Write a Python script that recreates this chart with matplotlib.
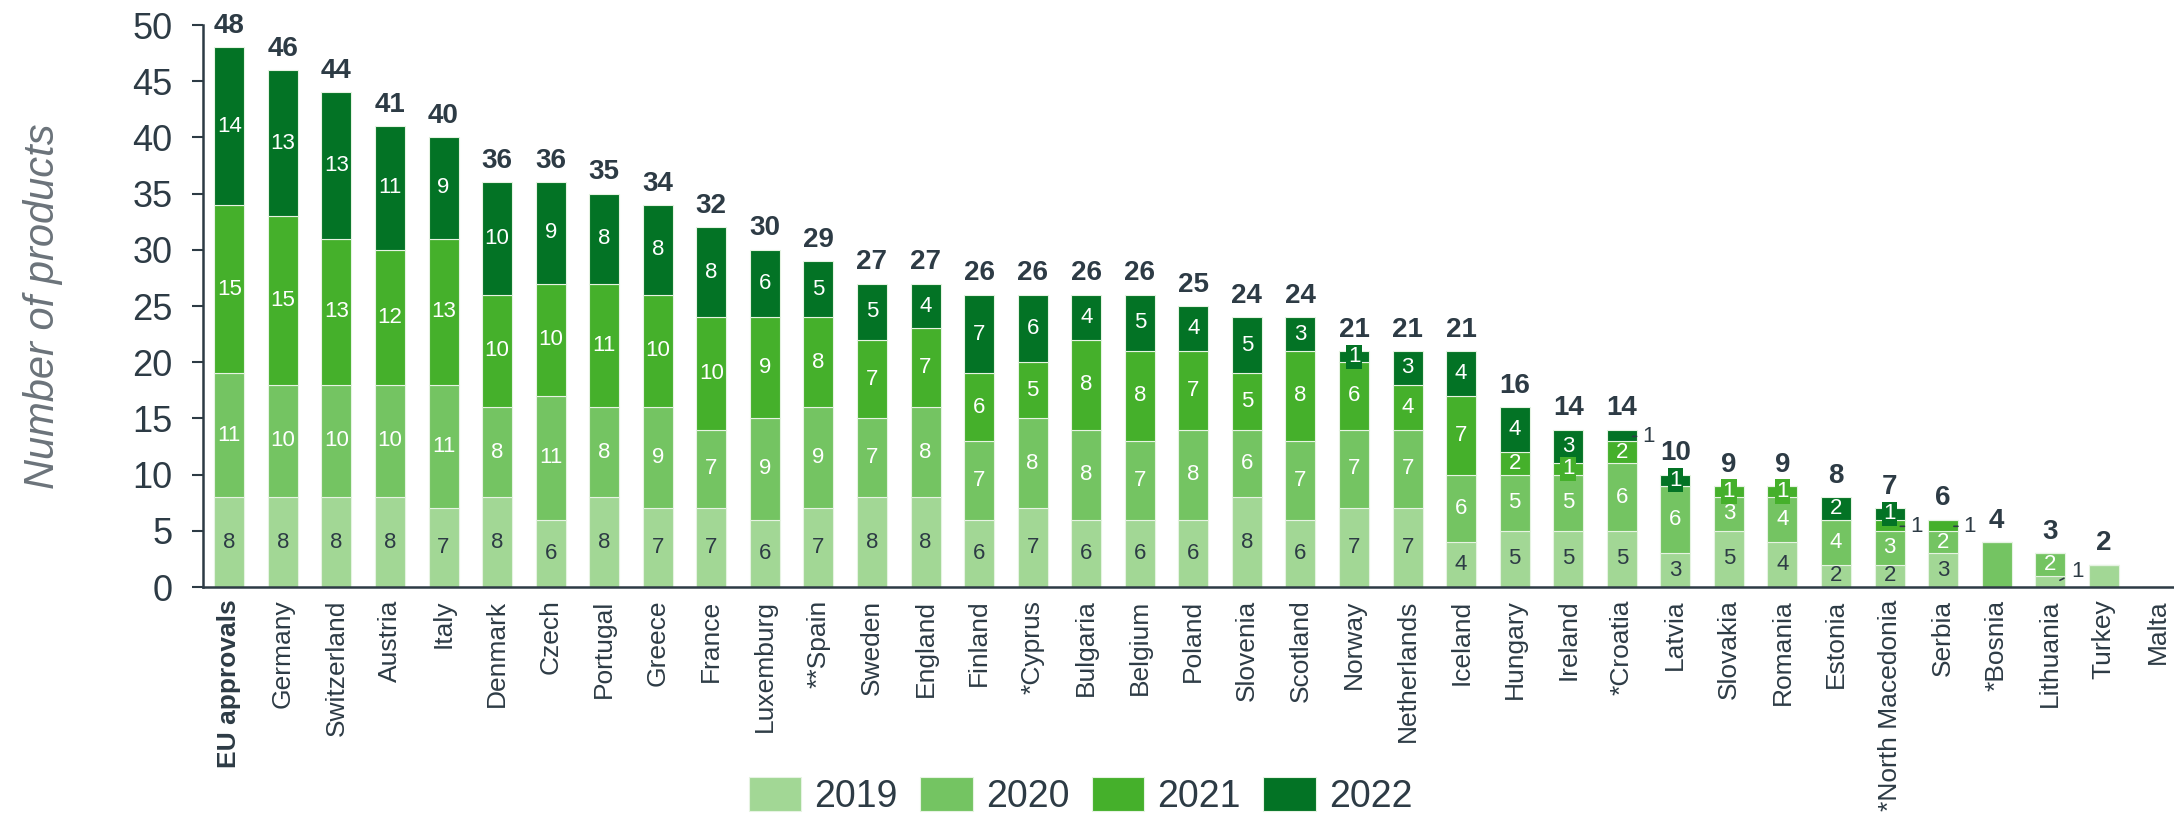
import matplotlib.pyplot as plt
import numpy as np

plt.rcParams['font.family'] = ['Liberation Sans', 'DejaVu Sans']

countries = ["EU approvals", "Germany", "Switzerland", "Austria", "Italy", "Denmark",
             "Czech", "Portugal", "Greece", "France", "Luxemburg", "**Spain", "Sweden",
             "England", "Finland", "*Cyprus", "Bulgaria", "Belgium", "Poland", "Slovenia",
             "Scotland", "Norway", "Netherlands", "Iceland", "Hungary", "Ireland",
             "*Croatia", "Latvia", "Slovakia", "Romania", "Estonia", "*North Macedonia",
             "Serbia", "*Bosnia", "Lithuania", "Turkey", "Malta"]
years = ["2019", "2020", "2021", "2022"]
y2019 = [8, 8, 8, 8, 7, 8, 6, 8, 7, 7, 6, 7, 8, 8, 6, 7, 6, 6, 6, 8, 6, 7, 7, 4, 5, 5, 5, 3, 5, 4, 2, 2, 3, 0, 1, 2, 0]
y2020 = [11, 10, 10, 10, 11, 8, 11, 8, 9, 7, 9, 9, 7, 8, 7, 8, 8, 7, 8, 6, 7, 7, 7, 6, 5, 5, 6, 6, 3, 4, 4, 3, 2, 4, 2, 0, 0]
y2021 = [15, 15, 13, 12, 13, 10, 10, 11, 10, 10, 9, 8, 7, 7, 6, 5, 8, 8, 7, 5, 8, 6, 4, 7, 2, 1, 2, 0, 1, 1, 0, 1, 1, 0, 0, 0, 0]
y2022 = [14, 13, 13, 11, 9, 10, 9, 8, 8, 8, 6, 5, 5, 4, 7, 6, 4, 5, 4, 5, 3, 1, 3, 4, 4, 3, 1, 1, 0, 0, 2, 1, 0, 0, 0, 0, 0]

# small "1" segments: drawn in a little box, or written beside the bar
boxed = [("Norway", 3), ("Ireland", 2), ("Latvia", 3), ("Slovakia", 2),
         ("Romania", 2), ("*North Macedonia", 3)]
beside = [("*Croatia", 3), ("*North Macedonia", 2), ("Serbia", 2)]
slanted = [("Lithuania", 0)]
no_label = ["*Bosnia", "Turkey"]

colors = ['#A2D795', '#74C462', '#45B02B', '#037325']
txt_colors = ['#2D3B45', 'white', 'white', 'white']
dark = '#2D3B45'

series = np.array([y2019, y2020, y2021, y2022])
x = np.arange(len(countries))
totals = series.sum(axis=0)

fig = plt.figure(figsize=(21.74, 8.17), dpi=100)
ax = fig.add_axes([0.0934, 0.2815, 0.9066, 0.6879])

bottom = np.zeros(len(countries))
for k in range(4):
    ax.bar(x, series[k], bottom=bottom, width=0.56, color=colors[k],
           edgecolor='#E6F3E2', linewidth=0.8, label=years[k])
    for i, name in enumerate(countries):
        v = series[k][i]
        if v == 0 or name in no_label:
            continue
        yc = bottom[i] + v / 2
        if (name, k) in boxed:
            ax.text(i, yc, str(v), ha='center', va='center', fontsize=16,
                    color=txt_colors[k],
                    bbox=dict(facecolor=colors[k], edgecolor='none', pad=1.2))
        elif (name, k) in beside:
            ax.annotate(str(v), xy=(i + 0.2, yc - 0.1), xytext=(i + 0.38, yc - 0.1),
                        ha='left', va='center', fontsize=16, color=dark,
                        arrowprops=dict(arrowstyle='-', color=dark, lw=1.2,
                                        shrinkA=2, shrinkB=0))
        elif (name, k) in slanted:
            ax.annotate(str(v), xy=(i + 0.18, yc + 0.1), xytext=(i + 0.4, yc + 0.9),
                        ha='left', va='center', fontsize=16, color=dark,
                        arrowprops=dict(arrowstyle='-', color=dark, lw=1.2,
                                        shrinkA=4, shrinkB=0))
        elif v > 1:
            ax.text(i, yc, str(v), ha='center', va='center', fontsize=16,
                    color=txt_colors[k])
    bottom += series[k]

for i, t in enumerate(totals):
    if t > 0:
        ax.annotate(str(t), xy=(i, t), xytext=(0, 6), textcoords='offset points',
                    ha='center', va='bottom', fontsize=20, fontweight='bold',
                    color=dark)

ax.set_xlim(-0.49, 36.31)
ax.set_ylim(0, 50)
ax.set_yticks(np.arange(0, 51, 5))
ax.set_xticks(x)
ax.set_xticklabels(countries, rotation=90, fontsize=19, color=dark)
ax.get_xticklabels()[0].set_fontweight('bold')
ax.tick_params(axis='x', length=0, pad=9)
ax.tick_params(axis='y', labelsize=26, colors=dark, length=8, width=1.5, pad=14)

for s in ['top', 'right']:
    ax.spines[s].set_visible(False)
for s in ['left', 'bottom']:
    ax.spines[s].set_color(dark)
    ax.spines[s].set_linewidth(1.8)

ax.set_ylabel('Number of products', fontsize=30, style='italic', color='#6B737A')
ax.yaxis.set_label_coords(-0.071, 0.5)

handles, labels = ax.get_legend_handles_labels()
leg = fig.legend(handles, labels, loc='center', bbox_to_anchor=(0.497, 0.026),
                 ncol=4, frameon=False, fontsize=27, handlelength=1.4,
                 handleheight=1.0, handletextpad=0.35, columnspacing=0.6)
for t in leg.get_texts():
    t.set_color(dark)

fig.savefig('out.png', dpi=100)
